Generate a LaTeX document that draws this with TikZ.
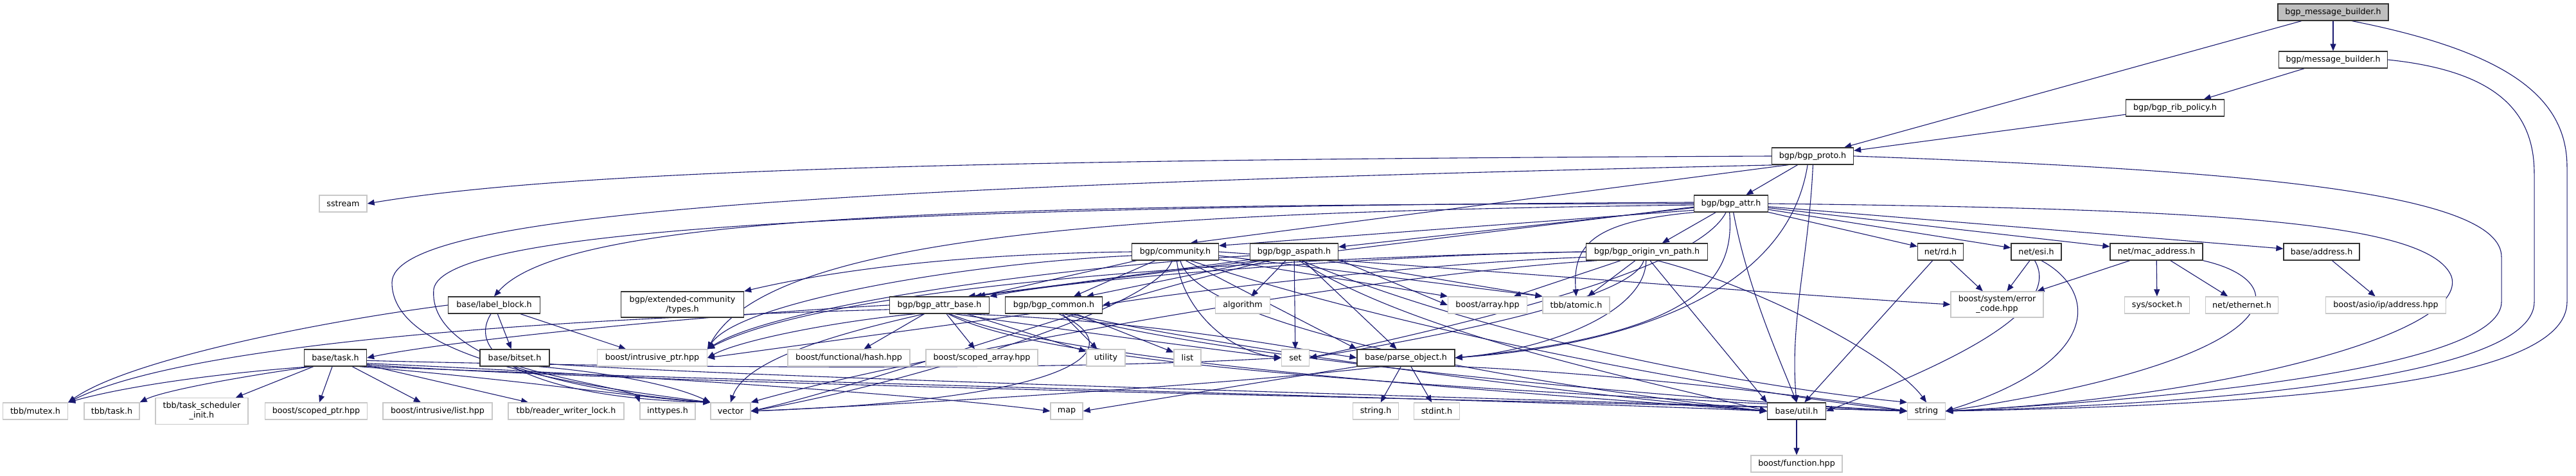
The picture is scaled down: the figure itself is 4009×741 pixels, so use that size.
\documentclass[tikz,border=0pt]{standalone}
\usepackage{fontspec}
\newfontfamily\gfnt{DejaVu Sans}
\usetikzlibrary{arrows.meta,backgrounds}
\definecolor{edgecol}{HTML}{191970}
\definecolor{extgray}{HTML}{C8C8C8}
\definecolor{maingray}{HTML}{BFBFBF}
\tikzset{
  gbase/.style={rectangle, inner sep=0pt, font=\gfnt\fontsize{12.7pt}{15pt}\selectfont, text=black, line width=1.3pt, fill=white, minimum height=26pt, align=center},
  intn/.style={gbase, draw=black!80},
  extn/.style={gbase, draw=extgray},
  mainn/.style={gbase, draw=black!80, fill=maingray},
  e/.style={draw=edgecol, line width=1.1pt, -{Triangle[length=11pt,width=9pt]}}
}
\begin{document}
\begin{tikzpicture}[x=1pt,y=-1pt]
\useasboundingbox (0,0) rectangle (4009,741);
% nodes
\node[mainn, minimum width=172pt] (main) at (3631,19) {bgp\_message\_builder.h};
\node[intn, minimum width=169pt] (mb) at (3631,93) {bgp/message\_builder.h};
\node[intn, minimum width=153pt] (rib) at (3385,168) {bgp/bgp\_rib\_policy.h};
\node[intn, minimum width=127pt] (proto) at (2821,243) {bgp/bgp\_proto.h};
\node[intn, minimum width=115pt] (attr) at (2694,317) {bgp/bgp\_attr.h};
\node[extn, minimum width=74pt] (sstream) at (534,317) {sstream};
% row 392
\node[intn, minimum width=135pt] (community) at (1829,392) {bgp/community.h};
\node[intn, minimum width=137pt] (aspath) at (2014,392) {bgp/bgp\_aspath.h};
\node[intn, minimum width=189pt] (origin) at (2563,392) {bgp/bgp\_origin\_vn\_path.h};
\node[intn, minimum width=71pt] (rd) at (3020,392) {net/rd.h};
\node[intn, minimum width=78pt] (esi) at (3169,392) {net/esi.h};
\node[intn, minimum width=144pt] (mac) at (3356,392) {net/mac\_address.h};
\node[intn, minimum width=118pt] (address) at (3613,392) {base/address.h};
% row 475
\node[intn, minimum width=191pt, minimum height=40pt] (extcomm) at (1062,474) {bgp/extended-community\\/types.h};
\node[intn, minimum width=143pt] (label) at (769,475) {base/label\_block.h};
\node[intn, minimum width=155pt] (attrbase) at (1462,475) {bgp/bgp\_attr\_base.h};
\node[intn, minimum width=151pt] (common) at (1640,475) {bgp/bgp\_common.h};
\node[extn, minimum width=85pt] (algorithm) at (1934,475) {algorithm};
\node[extn, minimum width=123pt] (array) at (2315,475) {boost/array.hpp};
\node[extn, minimum width=104pt] (atomic) at (2453,475) {tbb/atomic.h};
\node[extn, minimum width=144pt, minimum height=40pt] (errcode) at (3108,474) {boost/system/error\\\_code.hpp};
\node[extn, minimum width=101pt] (socket) at (3357,475) {sys/socket.h};
\node[extn, minimum width=113pt] (ethernet) at (3489,475) {net/ethernet.h};
\node[extn, minimum width=187pt] (asio) at (3713,475) {boost/asio/ip/address.hpp};
% row 557
\node[intn, minimum width=97pt] (task) at (522,557) {base/task.h};
\node[intn, minimum width=108pt] (bitset) at (801,557) {base/bitset.h};
\node[extn, minimum width=171pt] (iptr) at (1015,557) {boost/intrusive\_ptr.hpp};
\node[extn, minimum width=190pt] (hash) at (1321,557) {boost/functional/hash.hpp};
\node[extn, minimum width=174pt] (scarray) at (1528,557) {boost/scoped\_array.hpp};
\node[extn, minimum width=60pt] (utility) at (1721,557) {utility};
\node[extn, minimum width=42pt] (list) at (1848,557) {list};
\node[extn, minimum width=43pt] (set) at (2016,557) {set};
\node[intn, minimum width=152pt] (parse) at (2188,557) {base/parse\_object.h};
% row 640
\node[extn, minimum width=101pt] (mutex) at (55,640) {tbb/mutex.h};
\node[extn, minimum width=86pt] (ttask) at (174,640) {tbb/task.h};
\node[extn, minimum width=144pt, minimum height=41pt] (tsi) at (314,640) {tbb/task\_scheduler\\\_init.h};
\node[extn, minimum width=159pt] (scptr) at (492,640) {boost/scoped\_ptr.hpp};
\node[extn, minimum width=170pt] (ilist) at (681,640) {boost/intrusive/list.hpp};
\node[extn, minimum width=180pt] (rwl) at (881,640) {tbb/reader\_writer\_lock.h};
\node[extn, minimum width=86pt] (inttypes) at (1039,640) {inttypes.h};
\node[extn, minimum width=62pt] (vector) at (1137,640) {vector};
\node[extn, minimum width=50pt] (map) at (1660,640) {map};
\node[extn, minimum width=71pt] (stringh) at (2141,640) {string.h};
\node[extn, minimum width=71pt] (stdint) at (2236,640) {stdint.h};
\node[intn, minimum width=91pt] (util) at (2796,640) {base/util.h};
\node[extn, minimum width=59pt] (string) at (2998,640) {string};
\node[extn, minimum width=142pt] (function) at (2796,722) {boost/function.hpp};

\begin{pgfonlayer}{background}
\fill[white] (0,0) rectangle (4009,741);
% top
\draw[e] (main) -- (mb);
\draw[e] (main) -- (proto);
\draw[e] (main.-25) .. controls (3900,80) and (3995,150) .. (3995,260) -- (3995,470) .. controls (3995,590) and (3600,630) .. (string.east);
\draw[e] (mb) -- (rib);
\draw[e] (mb.east) .. controls (3880,110) and (3944,170) .. (3944,270) -- (3944,470) .. controls (3944,575) and (3550,625) .. (string.east);
\draw[e] (rib) -- (proto);
\draw[e] (proto.west) .. controls (1600,248) and (900,262) .. (sstream.east);
\draw[e] (proto) -- (attr);
\draw[e] (proto.195) .. controls (1300,290) and (610,330) .. (610,440) .. controls (610,560) and (900,600) .. (vector.north west);
\draw[e] (proto.east) .. controls (3500,265) and (3893,300) .. (3893,400) -- (3893,470) .. controls (3893,560) and (3500,615) .. (string.east);
\draw[e] (proto.200) -- (community.30);
\draw[e] (proto.-88) .. controls (2815,400) and (2785,500) .. (util.north);
\draw[e] (proto.-120) .. controls (2780,470) and (2500,540) .. (parse.east);
% attr
\draw[e] (attr.190) -- (community.8);
\draw[e] (attr) -- (aspath);
\draw[e] (attr) -- (origin);
\draw[e] (attr.south west) .. controls (2480,345) and (2447,380) .. (atomic.north);
\draw[e] (attr.185) -- (attrbase.17);
\draw[e] (attr.180) .. controls (1500,318) and (880,335) .. (label.north);
\draw[e] (attr.182) .. controls (1800,330) and (1200,360) .. (iptr.north east);
\draw[e] (attr.178) .. controls (1300,322) and (690,360) .. (675,450) .. controls (665,560) and (900,610) .. (vector.north west);
\draw[e] (attr.-120) .. controls (2640,420) and (2300,500) .. (set.east);
\draw[e] (attr.-100) .. controls (2700,430) and (2650,520) .. (parse.east);
\draw[e] (attr.-75) .. controls (2720,450) and (2770,560) .. (util.north);
\draw[e] (attr.east) .. controls (3450,325) and (3780,345) .. (3815,430) .. controls (3845,520) and (3450,620) .. (string.east);
\draw[e] (attr) -- (rd);
\draw[e] (attr) -- (esi);
\draw[e] (attr) -- (mac);
\draw[e] (attr) -- (address);
% community
\draw[e] (community.west) .. controls (1500,395) and (1300,420) .. (extcomm.north east);
\draw[e] (community) -- (attrbase);
\draw[e] (community) -- (common);
\draw[e] (community.-10) -- (array.north west);
\draw[e] (community.-5) -- (atomic.north west);
\draw[e] (community.185) .. controls (1500,410) and (1150,470) .. (iptr.north east);
\draw[e] (community.-80) .. controls (1838,470) and (1900,545) .. (set.west);
\draw[e] (community.-40) -- (parse.north west);
\draw[e] (community.-60) .. controls (1860,500) and (2300,590) .. (util.west);
\draw[e] (community.-30) .. controls (2200,520) and (2700,610) .. (string.west);
\draw[e] (community.-110) .. controls (1800,480) and (1400,600) .. (vector.east);
\draw[e] (community.east) .. controls (2300,420) and (2800,460) .. (errcode.west);
% aspath
\draw[e] (aspath) -- (algorithm);
\draw[e] (aspath) -- (set);
\draw[e] (aspath) -- (parse);
\draw[e] (aspath.190) -- (attrbase.14);
\draw[e] (aspath.195) -- (common.15);
\draw[e] (aspath.185) .. controls (1600,420) and (1200,480) .. (iptr.north east);
\draw[e] (aspath.-15) -- (atomic.north west);
\draw[e] (aspath.-10) -- (array.west);
\draw[e] (aspath.-50) .. controls (2300,520) and (2700,600) .. (string.north west);
\draw[e] (aspath.-60) .. controls (2200,520) and (2550,590) .. (util.west);
\draw[e] (aspath.200) .. controls (1700,470) and (1350,600) .. (vector.east);
% origin
\draw[e] (origin.west) .. controls (2200,395) and (1700,430) .. (attrbase.north east);
\draw[e] (origin.185) .. controls (2200,410) and (1800,460) .. (common.east);
\draw[e] (origin.180) .. controls (2000,400) and (1300,440) .. (iptr.north east);
\draw[e] (origin) -- (array);
\draw[e] (origin) -- (atomic);
\draw[e] (origin.-110) .. controls (2540,470) and (2200,530) .. (set.east);
\draw[e] (origin.-95) .. controls (2560,490) and (2400,545) .. (parse.east);
\draw[e] (origin.-70) -- (util.north west);
\draw[e] (origin.-40) .. controls (2750,450) and (2950,560) .. (string.north);
\draw[e] (origin.190) .. controls (2100,430) and (1400,560) .. (vector.north east);
% attr_base
\draw[e] (attrbase.west) .. controls (1100,490) and (700,530) .. (task.east);
\draw[e] (attrbase.185) .. controls (900,495) and (300,530) .. (mutex.north east);
\draw[e] (attrbase.-150) .. controls (1300,520) and (1160,560) .. (vector.north);
\draw[e] (attrbase) -- (hash);
\draw[e] (attrbase) -- (scarray);
\draw[e] (attrbase) -- (utility);
\draw[e] (attrbase.-30) .. controls (1700,520) and (1900,545) .. (set.west);
\draw[e] (attrbase.-20) .. controls (1800,500) and (2000,540) .. (parse.west);
\draw[e] (attrbase.-40) .. controls (1650,560) and (2200,600) .. (util.west);
\draw[e] (attrbase.-45) .. controls (1650,580) and (2400,610) .. (string.west);
\draw[e] (attrbase.200) .. controls (1300,500) and (1150,530) .. (iptr.east);
% common
\draw[e] (common.200) -- (iptr.east);
\draw[e] (common) -- (utility);
\draw[e] (common) -- (list);
\draw[e] (common.-60) .. controls (1760,540) and (1700,620) .. (vector.east);
\draw[e] (common.-40) .. controls (1900,560) and (2600,620) .. (string.west);
\draw[e] (common.-30) .. controls (1900,540) and (2400,610) .. (util.west);
% parse
\draw[e] (parse) -- (stringh);
\draw[e] (parse) -- (stdint);
\draw[e] (parse.south west) -- (map.east);
\draw[e] (parse.-160) .. controls (1900,600) and (1400,630) .. (vector.east);
\draw[e] (parse.-10) .. controls (2500,580) and (2850,620) .. (string.west);
% task
\draw[e] (task.200) .. controls (350,580) and (200,600) .. (mutex.north east);
\draw[e] (task.-160) .. controls (350,590) and (250,610) .. (ttask.north east);
\draw[e] (task) -- (tsi);
\draw[e] (task) -- (scptr);
\draw[e] (task) -- (ilist);
\draw[e] (task) -- (rwl);
\draw[e] (task.-10) .. controls (900,580) and (1400,610) .. (map.west);
\draw[e] (task.-5) .. controls (900,570) and (1600,580) .. (set.west);
\draw[e] (task.-20) .. controls (800,590) and (1000,620) .. (vector.north west);
\draw[e] (task.-15) .. controls (1000,590) and (2300,620) .. (util.west);
\draw[e] (task.-12) .. controls (1000,600) and (2500,625) .. (string.west);
% bitset
\draw[e] (bitset.-60) .. controls (870,590) and (990,610) .. (inttypes.north west);
\draw[e] (bitset.-20) .. controls (950,580) and (1050,600) .. (vector.north west);
\draw[e] (bitset.-10) .. controls (1200,590) and (2500,625) .. (string.west);
% label block
\draw[e] (label.west) .. controls (500,500) and (200,560) .. (mutex.north east);
\draw[e] (label) -- (bitset);
\draw[e] (label) -- (iptr);
\draw[e] (label.-110) .. controls (720,560) and (850,620) .. (vector.north west);
% net
\draw[e] (rd) -- (errcode);
\draw[e] (rd) -- (util);
\draw[e] (esi) -- (errcode);
\draw[e] (esi.-100) .. controls (3210,480) and (3050,560) .. (util.east);
\draw[e] (esi.-60) .. controls (3260,450) and (3280,560) .. (string.east);
\draw[e] (mac) -- (errcode);
\draw[e] (mac) -- (socket);
\draw[e] (mac) -- (ethernet);
\draw[e] (mac.south east) .. controls (3580,440) and (3560,560) .. (string.east);
\draw[e] (address) -- (asio);
\draw[e] (util) -- (function);
\end{pgfonlayer}
\end{tikzpicture}
\end{document}
